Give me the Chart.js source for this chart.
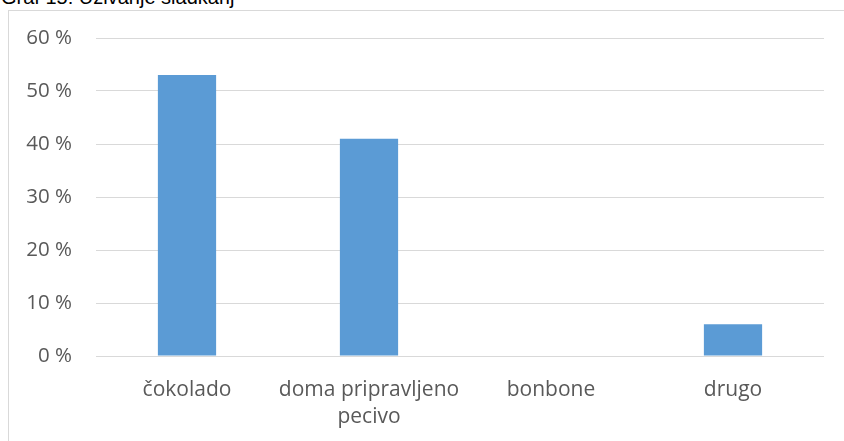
<!DOCTYPE html>
<html lang="sl">

<head>
    <meta charset="UTF-8">
    <title>Graf 15: Uživanje sladkarij</title>
    <style>
        body {
            margin: 0;
            padding: 0;
            background-color: #ffffff;
            width: 844px;
            height: 441px;
            overflow: hidden;
            position: relative;
        }

        .caption {
            position: absolute;
            left: 1px;
            top: -13px;
            font-family: 'Liberation Sans', Arial, sans-serif;
            font-size: 20px;
            line-height: 20px;
            color: #000000;
            white-space: nowrap;
        }

        .frame {
            position: absolute;
            left: 8px;
            top: 10px;
            width: 836px;
            height: 431px;
            border-left: 1px solid #d9d9d9;
            border-top: 1px solid #d9d9d9;
            box-sizing: border-box;
        }

        .frame canvas {
            display: block;
        }
    </style>
</head>

<body>
    <div class="caption">Graf 15: Uživanje sladkarij</div>
    <div class="frame">
        <canvas id="sweetsChart" width="835" height="430"></canvas>
    </div>

    <script src="https://cdn.jsdelivr.net/npm/chart.js"></script>
    <script>
        // Podatki grafa
        var categories = ['čokolado', ['doma pripravljeno', 'pecivo'], 'bonbone', 'drugo'];
        var shares = [53, 41, 0, 6];
        var yTicks = [0, 10, 20, 30, 40, 50, 60];

        const ctx = document.getElementById('sweetsChart').getContext('2d');
        const sweetsChart = new Chart(ctx, {
            type: 'bar',
            data: {
                labels: categories,
                datasets: [{
                    label: 'Delež',
                    data: shares,
                    backgroundColor: '#5b9bd5',
                    borderWidth: 0,
                    barPercentage: 0.32,
                    categoryPercentage: 1
                }]
            },
            options: {
                responsive: false,
                animation: false,
                layout: {
                    padding: { top: 27, right: 20, left: 0, bottom: 0 }
                },
                scales: {
                    y: {
                        min: 0,
                        max: yTicks[yTicks.length - 1],
                        afterFit: function (scale) {
                            scale.width = 87;
                            // ticks.padding ne sme premakniti risalne površine navzdol
                            scale.paddingTop = 0;
                            scale.paddingBottom = 0;
                        },
                        afterBuildTicks: function (scale) {
                            scale.ticks = yTicks.map(function (v) { return { value: v }; });
                        },
                        border: { display: false },
                        grid: {
                            color: '#d9d9d9',
                            lineWidth: 1,
                            drawTicks: false
                        },
                        ticks: {
                            padding: 24,
                            color: '#595959',
                            font: { family: 'Open Sans', size: 20.5 },
                            callback: function (v) { return v + ' %'; }
                        }
                    },
                    x: {
                        afterFit: function (scale) { scale.height = 85; },
                        border: { display: false },
                        grid: { display: false, drawTicks: false },
                        ticks: {
                            padding: 20,
                            color: '#595959',
                            maxRotation: 0,
                            autoSkip: false,
                            font: { family: 'Open Sans', size: 21, lineHeight: 1.3 }
                        }
                    }
                },
                plugins: {
                    legend: { display: false },
                    tooltip: { enabled: false }
                }
            }
        });
    </script>
</body>

</html>
